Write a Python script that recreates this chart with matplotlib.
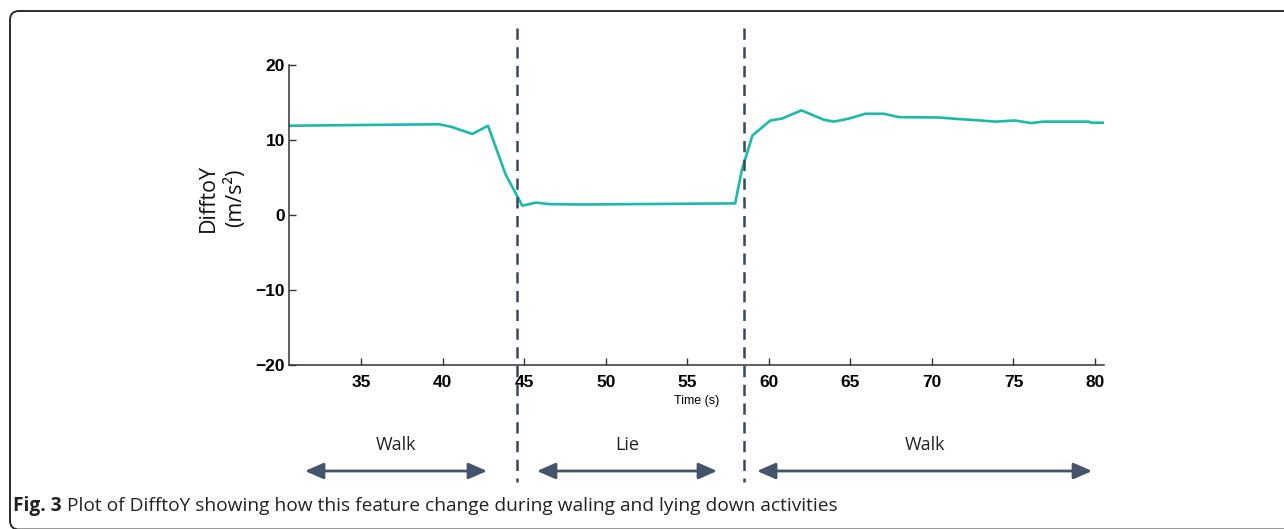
import matplotlib
matplotlib.use('Agg')
import matplotlib.pyplot as plt
from matplotlib.patches import FancyBboxPatch
from matplotlib.transforms import blended_transform_factory

# time (s) and DifftoY (m/s^2)
time_s = [30.6, 35.0, 39.8, 40.55, 41.83, 42.79, 43.87, 44.89, 45.74, 46.56, 48.5,
          57.94, 58.36, 59.0, 60.1, 60.8, 62.0, 63.38, 64.0, 64.9, 65.93, 67.05,
          67.97, 70.4, 71.6, 72.66, 73.88, 75.1, 76.1, 76.8, 79.6, 79.8, 80.55]
difftoy = [11.9, 12.0, 12.1, 11.75, 10.8, 11.9, 5.4, 1.25, 1.65, 1.45, 1.4,
           1.55, 6.1, 10.6, 12.6, 12.85, 13.95, 12.7, 12.45, 12.85, 13.5, 13.5,
           13.05, 13.0, 12.8, 12.65, 12.45, 12.6, 12.25, 12.45, 12.45, 12.3, 12.3]

x_ticks = [35, 40, 45, 50, 55, 60, 65, 70, 75, 80]
y_ticks = [-20, -10, 0, 10, 20]

# activity changes and the segments shown under the plot
boundaries = [44.55, 58.48]
activities = ['Walk', 'Lie', 'Walk']
segments = [(31.57, 42.73), (45.79, 56.83), (59.28, 79.82)]

W, H = 1284, 529
fig = plt.figure(figsize=(W / 100, H / 100), dpi=100)

# outer frame of the figure panel (pixel coords overlay)
over = fig.add_axes([0, 0, 1, 1])
over.set_xlim(0, W)
over.set_ylim(H, 0)
over.axis('off')
over.add_patch(FancyBboxPatch((10, 11), 1320, 518.5, boxstyle='round,pad=0,rounding_size=9',
                              fill=False, edgecolor='#2b2b2b', linewidth=1.4))

ax = fig.add_axes([289 / W, 1 - 365 / H, (1104 - 289) / W, 300 / H])
ax.plot(time_s, difftoy, color='#1cb9ad', linewidth=1.9)
ax.set_xlim(30.59, 80.55)
ax.set_ylim(-20, 20)
ax.set_xticks(x_ticks)
ax.set_yticks(y_ticks)
for s in ['top', 'right']:
    ax.spines[s].set_visible(False)
for s in ['left', 'bottom']:
    ax.spines[s].set_color('#333333')
    ax.spines[s].set_linewidth(1.1)
ax.tick_params(direction='in', length=5, width=1, color='#333333')
ax.tick_params(axis='x', pad=7)
ax.tick_params(axis='y', pad=3)
for lab in ax.get_xticklabels() + ax.get_yticklabels():
    lab.set_fontfamily('Liberation Sans')
    lab.set_fontweight('bold')
    lab.set_fontsize(12.5)
ax.patch.set_alpha(0)

ax.set_xlabel('Time (s)', fontsize=9, family='Liberation Sans')
ax.xaxis.set_label_coords((697 - 289) / 815, -0.10)

fig.text(222 / W, 1 - 198 / H, 'DifftoY\n(m/s²)', rotation=90, ha='center', va='center',
         multialignment='center', fontsize=15.5, family='Open Sans', linespacing=1.3,
         color='#111111')

trans = blended_transform_factory(ax.transData, fig.transFigure)
for b in boundaries:
    ax.plot([b, b], [1 - 28 / H, 1 - 482 / H], transform=trans, clip_on=False,
            color='#3b475a', linewidth=1.8, linestyle=(0, (4.5, 3)))

for name, (x0, x1) in zip(activities, segments):
    ax.annotate('', xy=(x1, 1 - 471 / H), xytext=(x0, 1 - 471 / H), xycoords=trans,
                textcoords=trans, annotation_clip=False,
                arrowprops=dict(arrowstyle='<|-|>,head_length=0.8,head_width=0.35',
                                mutation_scale=14, color='#44546a', lw=2,
                                shrinkA=0, shrinkB=0))
    ax.text((x0 + x1) / 2, 1 - 445 / H, name, transform=trans, ha='center', va='center',
            fontsize=13, family='Open Sans', color='#222222')

cap_y = 1 - 511 / H
t1 = fig.text(13 / W, cap_y, 'Fig. 3', fontsize=13.8, family='Open Sans', fontweight='bold',
              va='baseline', color='#222222')
fig.canvas.draw()
bb = t1.get_window_extent()
fig.text((bb.x1 + 5) / W, cap_y,
         'Plot of DifftoY showing how this feature change during waling and lying down activities',
         fontsize=13.8, family='Open Sans', va='baseline', color='#222222')

fig.savefig('out.png', dpi=100)
